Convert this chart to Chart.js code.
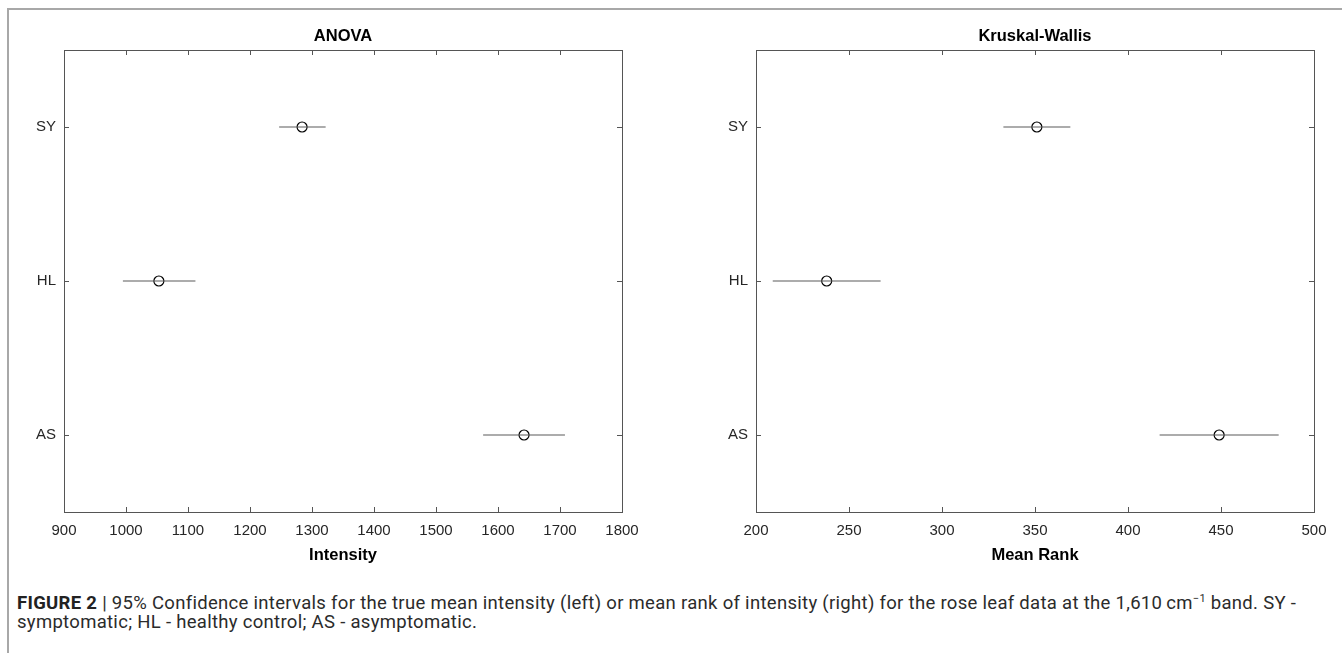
<!DOCTYPE html>
<html>
<head>
<meta charset="utf-8">
<script src="https://cdn.jsdelivr.net/npm/chart.js@4.4.1/dist/chart.umd.min.js"></script>
<style>
  html, body { margin: 0; padding: 0; background: #fff; overflow: hidden; }
  body { width: 1342px; height: 653px; position: relative; }
  .frame { position: absolute; left: 7px; top: 8px; right: 0; bottom: 0;
           border-top: 2px solid #a8a8a8; border-left: 2px solid #a8a8a8; }
  .panel { position: absolute; top: 0; width: 671px; height: 565px; }
  .caption { position: absolute; left: 17px; top: 589px; width: 1320px;
             font-family: "Roboto", sans-serif; font-size: 18.5px; letter-spacing: 0.3px;
             line-height: 19px; color: #2b2b2b; white-space: nowrap; }
  .caption b { font-weight: bold; color: #222; }
</style>
</head>
<body>
<div class="frame"></div>
<div class="panel" style="left:0"><canvas id="anova"></canvas></div>
<div class="panel" style="left:671px"><canvas id="kw"></canvas></div>
<div class="caption"><b>FIGURE 2</b> | 95% Confidence intervals for the true mean intensity (left) or mean rank of intensity (right) for the rose leaf data at the 1,610&#8201;cm<sup style="font-size:11px">&minus;1</sup> band. SY -<br>symptomatic; HL - healthy control; AS - asymptomatic.</div>
<script>
// groups from top to bottom
var groups = ['SY', 'HL', 'AS'];

// ANOVA: mean intensity with 95% CI
var anovaMean = [1284, 1053, 1642];
var anovaLow  = [1247, 995, 1576];
var anovaHigh = [1322, 1112, 1708];

// Kruskal-Wallis: mean rank with 95% CI
var kwMean = [351, 238, 449];
var kwLow  = [333, 209, 417];
var kwHigh = [369, 267, 481];

// draws the axes box with inward tick marks on all four sides
var boxTicks = {
  id: 'boxTicks',
  afterDatasetsDraw: function(chart) {
    var ctx = chart.ctx, a = chart.chartArea, x = chart.scales.x, y = chart.scales.y;
    ctx.save();
    ctx.strokeStyle = '#555';
    ctx.lineWidth = 1;
    ctx.strokeRect(Math.round(a.left) + 0.5, Math.round(a.top) + 0.5,
                   Math.round(a.right - a.left), Math.round(a.bottom - a.top));
    ctx.beginPath();
    x.ticks.forEach(function(t) {
      var px = Math.round(x.getPixelForValue(t.value)) + 0.5;
      ctx.moveTo(px, a.bottom); ctx.lineTo(px, a.bottom - 5);
      ctx.moveTo(px, a.top); ctx.lineTo(px, a.top + 5);
    });
    y.ticks.forEach(function(t) {
      var py = Math.round(y.getPixelForValue(t.value)) + 0.5;
      ctx.moveTo(a.left, py); ctx.lineTo(a.left + 5, py);
      ctx.moveTo(a.right, py); ctx.lineTo(a.right - 5, py);
    });
    ctx.stroke();
    ctx.restore();
  }
};

function makePanel(id, title, axisTitle, mean, low, high, xmin, xmax, step, yWidth, padRight) {
  var datasets = [];
  groups.forEach(function(g, i) {
    datasets.push({
      data: [{x: low[i], y: i + 1}, {x: high[i], y: i + 1}],
      showLine: true,
      borderColor: '#5a5a5a',
      borderWidth: 1.2,
      pointRadius: 0
    });
  });
  datasets.push({
    data: mean.map(function(v, i) { return {x: v, y: i + 1}; }),
    pointRadius: 5,
    pointBorderWidth: 1.2,
    pointBorderColor: '#000',
    pointBackgroundColor: '#fff'
  });

  return new Chart(document.getElementById(id), {
    type: 'scatter',
    data: {datasets: datasets},
    options: {
      responsive: true,
      maintainAspectRatio: false,
      animation: false,
      layout: {padding: {left: 0, right: padRight, top: 0, bottom: 0}},
      plugins: {
        legend: {display: false},
        tooltip: {enabled: false},
        title: {
          display: true,
          text: title,
          fullSize: false,
          color: '#000',
          font: {family: 'Liberation Sans', size: 16.5, weight: 'bold'},
          padding: {top: 27, bottom: 3.2}
        }
      },
      scales: {
        x: {
          type: 'linear',
          min: xmin, max: xmax,
          border: {display: false},
          grid: {display: false, drawTicks: false},
          ticks: {stepSize: step, padding: 10, color: '#262626',
                  font: {family: 'Liberation Sans', size: 15},
                  callback: function(v) { return String(v); }},
          title: {display: true, text: axisTitle, color: '#000', padding: 0,
                  font: {family: 'Liberation Sans', size: 16.5, weight: 'bold'}},
          afterFit: function(s) { s.height = 53; }
        },
        y: {
          type: 'linear',
          min: 0.5, max: 3.5,
          reverse: true,
          border: {display: false},
          grid: {display: false, drawTicks: false},
          afterBuildTicks: function(s) {
            s.ticks = groups.map(function(g, i) { return {value: i + 1}; });
          },
          ticks: {padding: 8, color: '#262626',
                  font: {family: 'Liberation Sans', size: 15},
                  callback: function(v) { return groups[v - 1]; }},
          afterFit: function(s) { s.width = yWidth; }
        }
      }
    },
    plugins: [boxTicks]
  });
}

makePanel('anova', 'ANOVA', 'Intensity', anovaMean, anovaLow, anovaHigh, 900, 1800, 100, 64, 49);
makePanel('kw', 'Kruskal-Wallis', 'Mean Rank', kwMean, kwLow, kwHigh, 200, 500, 50, 85, 28);
</script>
</body>
</html>
